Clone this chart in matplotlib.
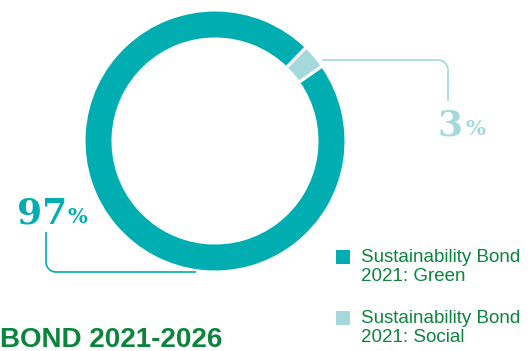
import numpy as np
import matplotlib.pyplot as plt

# share of the sustainability bond 2021-2026
labels = ["Sustainability Bond\n2021: Green", "Sustainability Bond\n2021: Social"]
shares = [97, 3]
share_text = ["97", "3"]
title = "SUSTAINABILITY BOND 2021-2026"

teal = "#00adb1"
light = "#a5d8db"
green = "#0b843c"
H = 351

fig = plt.figure(figsize=(5.28, 3.51), dpi=100)
ax = fig.add_axes([0, 0, 1, 1])

ax.pie(shares, colors=[teal, light], center=(215, H - 141), radius=131,
       startangle=45.8, counterclock=True,
       wedgeprops=dict(width=29, edgecolor="white", linewidth=2.2))
ax.set_xlim(0, 528)
ax.set_ylim(0, H)
ax.set_aspect("auto")
ax.axis("off")

def leader(pts, color):
    xs = [p[0] for p in pts]
    ys = [H - p[1] for p in pts]
    ax.plot(xs, ys, color=color, lw=1.2, solid_capstyle="butt")

def corner(cx, cy, r, a0, a1, n=12):
    t = np.radians(np.linspace(a0, a1, n))
    return [(cx + r * np.cos(a), cy + r * np.sin(a)) for a in t]

# 3% leader: from wedge right, then down
leader([(322, 60)] + corner(438, 70, 10, -90, 0) + [(448, 101)], light)
# 97% leader: down from label, then right to ring bottom
leader([(46, 232)] + corner(56, 262, 10, 180, 90) + [(196, 272)], teal)

ax.text(17, H - 223, share_text[0], color=teal, fontsize=26, fontweight="bold",
        family="DejaVu Serif", ha="left", va="baseline")
ax.text(68, H - 223, "%", color=teal, fontsize=15, fontweight="bold",
        family="DejaVu Serif", ha="left", va="baseline")
ax.text(437, H - 135, share_text[1], color=light, fontsize=26, fontweight="bold",
        family="DejaVu Serif", ha="left", va="baseline")
ax.text(466, H - 135, "%", color=light, fontsize=15, fontweight="bold",
        family="DejaVu Serif", ha="left", va="baseline")

# legend
for i, (lab, col) in enumerate(zip(labels, [teal, light])):
    y0 = 250 + i * 61
    ax.add_patch(plt.Rectangle((336, H - y0 - 14), 14, 14, color=col, lw=0))
    ax.text(361, H - y0 + 1, lab, color=green, fontsize=13.5, family="Liberation Sans",
            ha="left", va="top", linespacing=1.15)

ax.text(222, H - 347, title, color=green, fontsize=20, fontweight="bold",
        family="Liberation Sans", ha="right", va="baseline")

fig.savefig("out.png", dpi=100)
